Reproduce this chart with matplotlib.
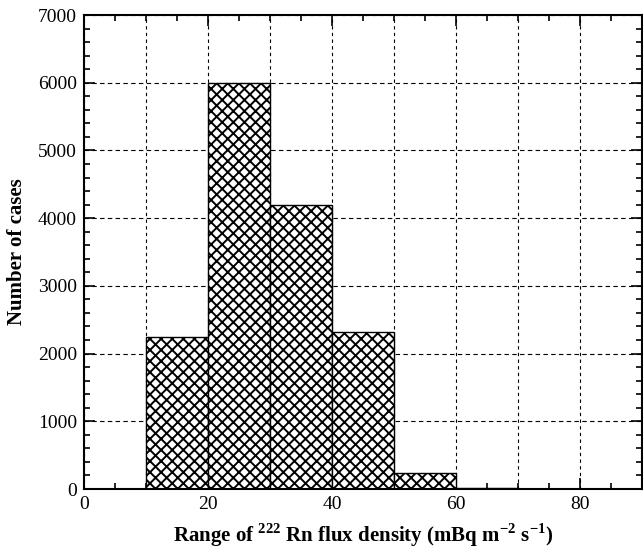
import numpy as np
from matplotlib import pyplot as plt
from matplotlib.ticker import MultipleLocator

plt.rc('font', family='Liberation Serif', size=14)
plt.rc('hatch', linewidth=1.4)
plt.rc('mathtext', fontset='custom', rm='Liberation Serif', bf='Liberation Serif:bold')

bin_left = [10, 20, 30, 40, 50, 60, 70, 80]
counts = [2250, 6000, 4200, 2320, 230, 12, 6, 4]

fig = plt.figure(figsize=(6.43, 5.5), dpi=100)
ax = fig.add_axes([84 / 643, 61 / 550, 558 / 643, 474 / 550])

ax.bar(bin_left, counts, width=10, align='edge', color='white',
       edgecolor='black', hatch='xxx', linewidth=1.0, zorder=2)

ax.set_xlim(0, 90)
ax.set_ylim(0, 7000)
ax.xaxis.set_major_locator(MultipleLocator(20))
ax.xaxis.set_minor_locator(MultipleLocator(5))
ax.yaxis.set_major_locator(MultipleLocator(1000))
ax.yaxis.set_minor_locator(MultipleLocator(200))
ax.tick_params(which='both', direction='in', top=True, right=True, width=1.2)
ax.tick_params(which='major', length=8, labelsize=14, pad=5)
ax.tick_params(which='minor', length=4)
ax.xaxis.grid(True, which='major', linestyle=(0, (3, 3)), color='black', linewidth=0.8)
ax.yaxis.grid(True, which='major', linestyle=(0, (4, 3)), color='black', linewidth=0.8)
# extra dotted lines at odd tens, like the original
for xv in [10, 30, 50, 70]:
    ax.axvline(xv, linestyle=(0, (3, 3)), color='black', linewidth=0.8, zorder=0.5)
ax.set_axisbelow(True)
for s in ax.spines.values():
    s.set_linewidth(1.5)

ax.set_xlabel('Range of $^{\\mathbf{222}}$ Rn flux density (mBq m$^{\\mathbf{-2}}$ s$^{\\mathbf{-1}}$)',
              fontsize=15, fontweight='bold', labelpad=6)
ax.set_ylabel('Number of cases', fontsize=15, fontweight='bold', labelpad=8)

fig.savefig('out.png', dpi=100)
